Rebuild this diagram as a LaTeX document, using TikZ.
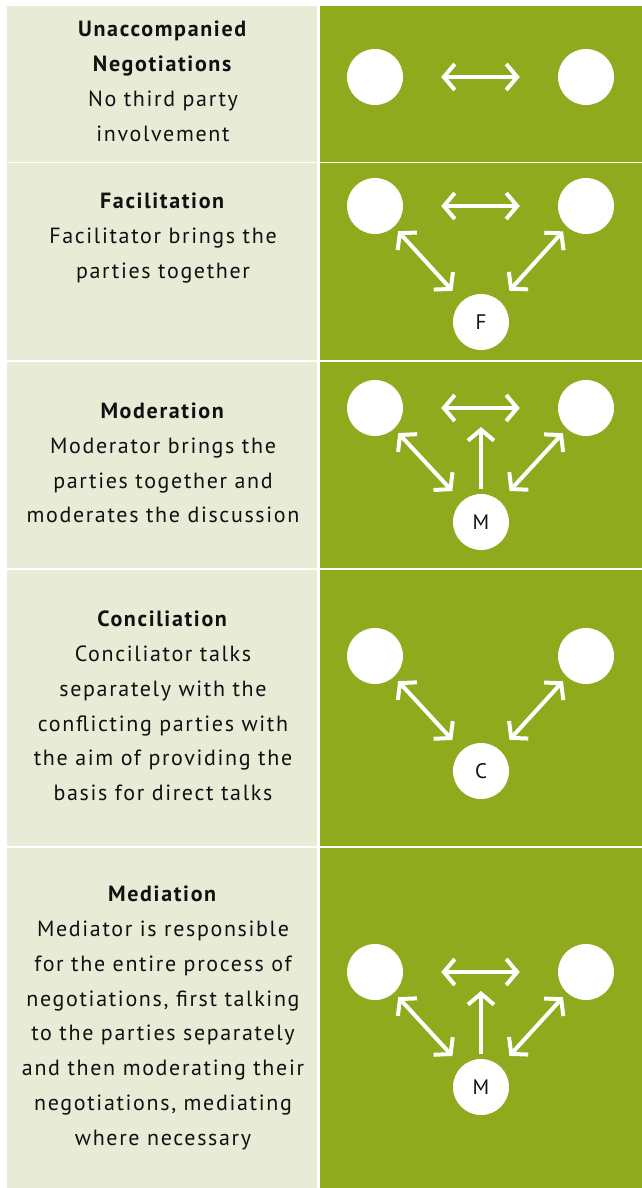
\documentclass[tikz,border=0pt]{standalone}
\usepackage{fontspec}
\setmainfont{PT Sans}[LetterSpace=7.5]
\usetikzlibrary{arrows.meta}
\definecolor{panel}{HTML}{E8ECD6}
\definecolor{leaf}{HTML}{8FAA1C}
\definecolor{ink}{HTML}{111111}
\begin{document}
\begin{tikzpicture}[x=1pt,y=-1pt,
  desc/.style={align=center, text=ink, font=\fontsize{22}{34.8}\selectfont, inner sep=0pt},
  party/.style={circle, fill=white, minimum size=56pt, inner sep=0pt, text=ink, font=\fontsize{21}{24}\selectfont},
  link/.style={draw=white, line width=4pt,
    {Straight Barb[length=11pt,width=26pt]}-{Straight Barb[length=11pt,width=26pt]}},
  push/.style={draw=white, line width=4pt, -{Straight Barb[length=11pt,width=26pt]}},
  direct/.style={link, shorten <=38pt, shorten >=38pt},
  side/.style={link, shorten <=6pt, shorten >=14pt}]
\useasboundingbox (0,0) rectangle (642,1188);
\fill[white] (0,0) rectangle (642,1188);
% row panels
\foreach \t/\b in {6/161.7, 163.3/360.3, 362.3/567.5, 570/845.7, 848.3/1188}{
  \fill[panel] (7,\t) rectangle (317,\b);
  \fill[leaf] (319.7,\t) rectangle (642,\b);
}
% descriptions
\node[desc] (t1) at (163,81.5) {\textbf{Unaccompanied}\\\textbf{Negotiations}\\No third party\\involvement};
\node[desc] (t2) at (163,238) {\textbf{Facilitation}\\Facilitator brings the\\parties together};
\node[desc] (t3) at (163,463) {\textbf{Moderation}\\Moderator brings the\\parties together and\\moderates the discussion};
\node[desc] (t4) at (163,706) {\textbf{Conciliation}\\Conciliator talks\\separately with the\\conflicting parties with\\the aim of providing the\\basis for direct talks};
\node[desc] (t5) at (163,1018) {\textbf{Mediation}\\Mediator is responsible\\for the entire process of\\negotiations, first talking\\to the parties separately\\and then moderating their\\negotiations, mediating\\where necessary};
% unaccompanied negotiations
\node[party] (a1) at (375,77) {};
\node[party] (b1) at (586,77) {};
\draw[direct] (a1) -- (b1);
% facilitation
\node[party] (a2) at (375,206) {};
\node[party] (b2) at (586,206) {};
\node[party] (f2) at (481,322) {F};
\draw[direct] (a2) -- (b2);
\draw[side] (a2) -- (f2);
\draw[side] (b2) -- (f2);
% moderation
\node[party] (a3) at (375,408) {};
\node[party] (b3) at (586,408) {};
\node[party] (m3) at (481,522) {M};
\coordinate (up3) at (481,427);
\draw[direct] (a3) -- (b3);
\draw[side] (a3) -- (m3);
\draw[side] (b3) -- (m3);
\draw[push, shorten <=5pt] (m3) -- (up3);
% conciliation
\node[party] (a4) at (375,656) {};
\node[party] (b4) at (586,656) {};
\node[party] (c4) at (481,771) {C};
\draw[side] (a4) -- (c4);
\draw[side] (b4) -- (c4);
% mediation
\node[party] (a5) at (375,972) {};
\node[party] (b5) at (586,972) {};
\node[party] (m5) at (481,1087) {M};
\coordinate (up5) at (481,991);
\draw[direct] (a5) -- (b5);
\draw[side] (a5) -- (m5);
\draw[side] (b5) -- (m5);
\draw[push, shorten <=5pt] (m5) -- (up5);
\end{tikzpicture}
\end{document}
